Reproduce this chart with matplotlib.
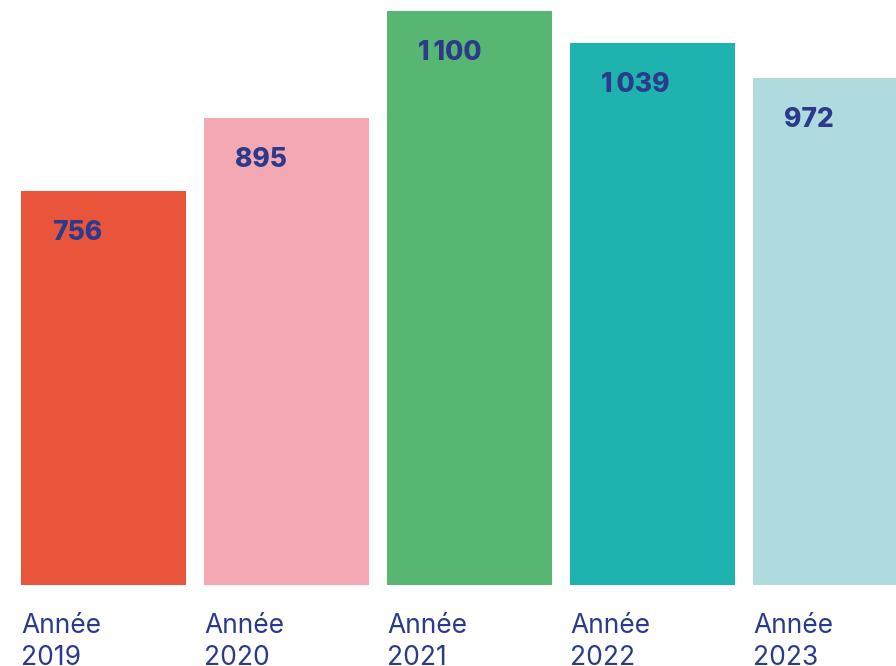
import numpy as np
import matplotlib.pyplot as plt

years = ["2019", "2020", "2021", "2022", "2023"]
values = [756, 895, 1100, 1039, 972]
value_labels = ["756", "895", "1\u2009100", "1\u2009039", "972"]
colors = ["#E9553B", "#F4A8B3", "#58B673", "#1EB3AE", "#AFDBDF"]

navy = "#2B3A8A"
plt.rcParams['font.family'] = ['Inter', 'DejaVu Sans']

fig = plt.figure(figsize=(8.96, 6.66), dpi=100)
ax = fig.add_axes([0, 81 / 666, 1, 585 / 666])

ind = np.arange(len(years))
width = 0.9
ax.bar(ind, values, width, color=colors)

ax.set_xlim(-103.5 / 183, (896 - 103.5) / 183)
ax.set_ylim(0, 1100 * 585 / 574)
ax.axis('off')

for i in ind:
    left = i - width / 2
    ax.annotate(value_labels[i], (left, values[i]), xytext=(31, -42),
                textcoords='offset pixels', ha='left', va='center',
                fontsize=19, fontweight='heavy', color=navy)
    # the reference crops the year line at the bottom edge too
    ax.annotate("Année\n" + years[i], (left, 0), xytext=(0, -57),
                textcoords='offset pixels', ha='left', va='center',
                fontsize=19, color=navy, linespacing=1.33,
                annotation_clip=False)

fig.savefig("out.png", dpi=100)
